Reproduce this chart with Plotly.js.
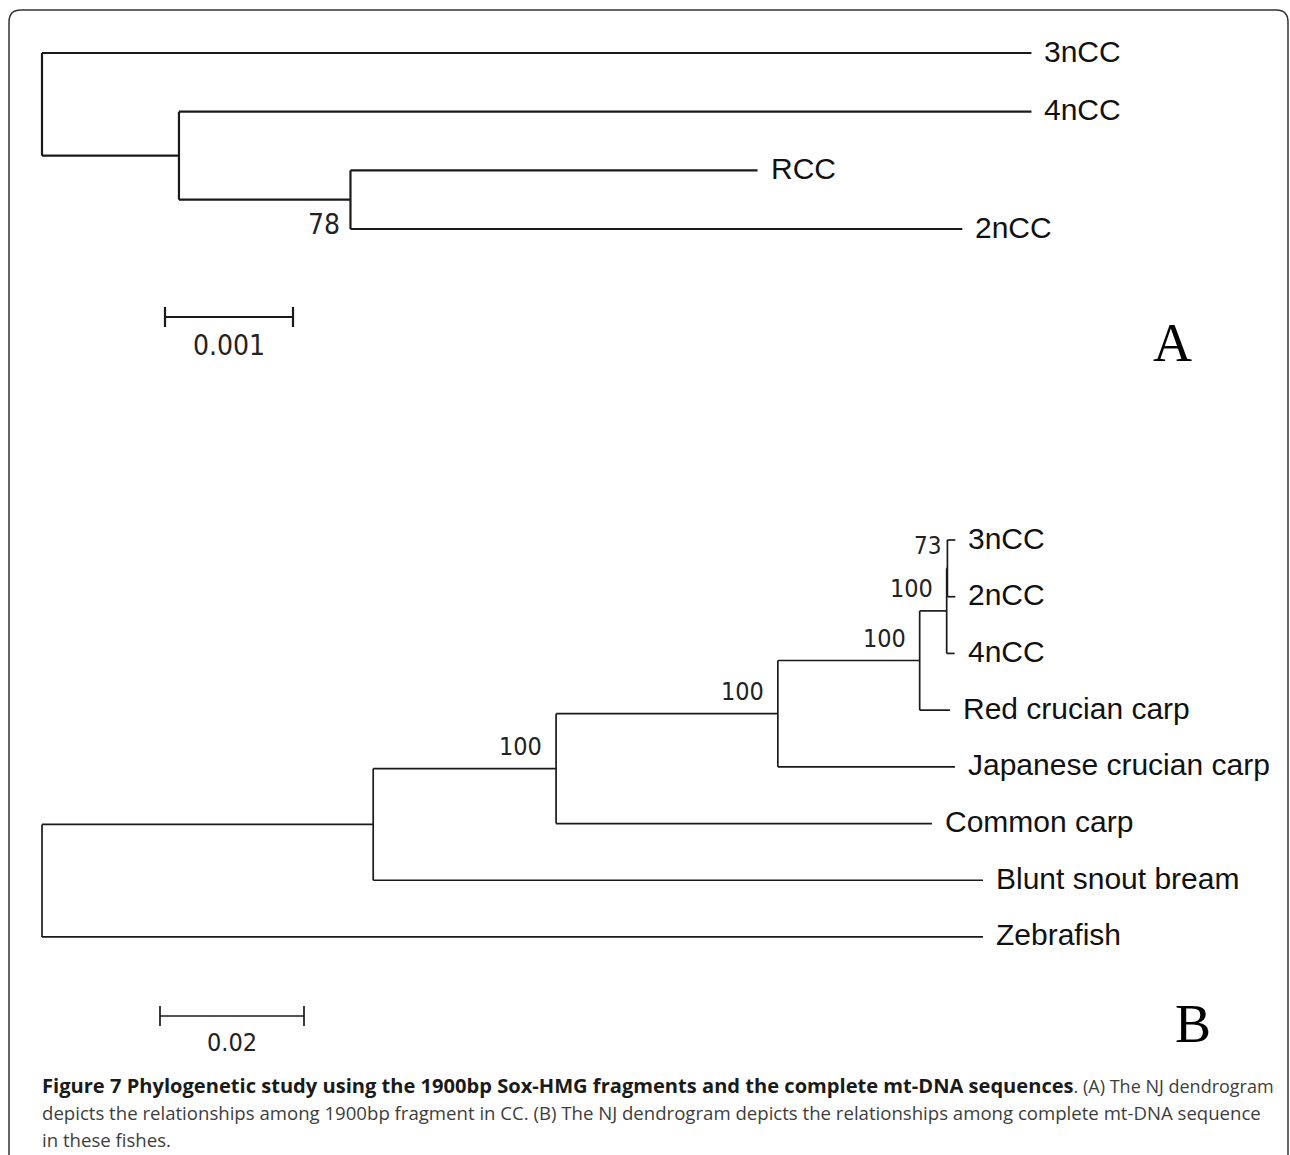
<!DOCTYPE html>
<html><head><meta charset="utf-8">
<script src="https://cdn.plot.ly/plotly-3.0.1.min.js"></script>
<style>html,body{margin:0;padding:0;background:#fff}</style>
</head><body><div id="chart" style="width:1290px;height:1155px"></div>
<script>
// ---------------- DATA ----------------
// Tree A: NJ dendrogram, 1900bp Sox-HMG fragments (branch lengths in substitutions/site)
const nodesA   = ["rootA", "3nCC", "A1", "4nCC", "A2", "RCC", "2nCC"];
const parentsA = [null, "rootA", "rootA", "A1", "A1", "A2", "A2"];
const branchA  = [0, 0.00773, 0.00107, 0.00666, 0.00134, 0.00318, 0.00478];
const supportA = ["", "", "", "", "78", "", ""];
const scaleA = 0.001, scaleLabelA = "0.001";

// Tree B: NJ dendrogram, complete mt-DNA sequences
const nodesB   = ["rootB", "B1", "B2", "B3", "B4", "B5", "B6", "3nCC", "2nCC", "4nCC",
                  "Red crucian carp", "Japanese crucian carp", "Common carp", "Blunt snout bream", "Zebrafish"];
const parentsB = [null, "rootB", "B1", "B2", "B3", "B4", "B5", "B6", "B6", "B5",
                  "B4", "B3", "B2", "B1", "rootB"];
const branchB  = [0, 0.0460, 0.0254, 0.0308, 0.0197, 0.00375, 0.0001, 0.0011, 0.0011, 0.0011,
                  0.0042, 0.0246, 0.0522, 0.0847, 0.1307];
const supportB = ["", "", "100", "100", "100", "100", "73", "", "", "", "", "", "", "", ""];
const scaleB = 0.02, scaleLabelB = "0.02";

const panelLetters = ["A", "B"];
const captionBold = "Figure 7 Phylogenetic study using the 1900bp Sox-HMG fragments and the complete mt-DNA sequences";
const captionLines = [
  ". (A) The NJ dendrogram",
  "depicts the relationships among 1900bp fragment in CC. (B) The NJ dendrogram depicts the relationships among complete mt-DNA sequence",
  "in these fishes."
];

// ---------------- STYLE / GEOMETRY ----------------
const W = 1290, H = 1155;
const geomA = {ox: 42, oy: 53, pxPerScale: 128, tipGap: 58.67, lw: 2.2, lab: 30, sup: 28,
               supShift: {dx: -8, dy: -6, below: true}, barX0: 165, barY: 317, barLabDy: 28};
const geomB = {ox: 42, oy: 540, pxPerScale: 144, tipGap: 56.71, lw: 1.7, lab: 30, sup: 25,
               supShift: {dx: -12, dy: 6, below: false}, barX0: 160, barY: 1016, barLabDy: 26};
const lineColor = "#1a1a1a";

function layoutTree(names, parents, lens) {
  const idx = {}; names.forEach((n, i) => idx[n] = i);
  const children = names.map(() => []);
  parents.forEach((p, i) => { if (p !== null) children[idx[p]].push(i); });
  const x = new Array(names.length), y = new Array(names.length);
  let tip = 0;
  function visit(i, px) {
    x[i] = px + lens[i];
    if (children[i].length === 0) { y[i] = tip++; }
    else {
      children[i].forEach(c => visit(c, x[i]));
      const ys = children[i].map(c => y[c]);
      y[i] = (Math.min(...ys) + Math.max(...ys)) / 2;
    }
  }
  visit(parents.indexOf(null), 0);
  return {x, y, children, pidx: parents.map(p => p === null ? -1 : idx[p])};
}

function buildTree(names, parents, lens, support, scale, scaleLabel, g, xa, ya) {
  const t = layoutTree(names, parents, lens);
  const X = [], Y = [];
  names.forEach((n, i) => {
    const p = t.pidx[i];
    if (p >= 0) { X.push(t.x[p], t.x[i], null); Y.push(t.y[i], t.y[i], null); }
    if (t.children[i].length) {
      const ys = t.children[i].map(c => t.y[c]);
      X.push(t.x[i], t.x[i], null); Y.push(Math.min(...ys), Math.max(...ys), null);
    }
  });
  const unitPerPx = scale / g.pxPerScale;
  const traces = [{type: "scatter", mode: "lines", x: X, y: Y, xaxis: xa, yaxis: ya,
    line: {color: lineColor, width: g.lw, shape: "linear"}, hoverinfo: "skip", showlegend: false}];
  // scale bar
  const bx0 = (g.barX0 - g.ox) * unitPerPx;
  const by = (g.barY - g.oy) / g.tipGap;
  const tk = 10 / g.tipGap;
  traces.push({type: "scatter", mode: "lines", xaxis: xa, yaxis: ya,
    x: [bx0, bx0 + scale, null, bx0, bx0, null, bx0 + scale, bx0 + scale],
    y: [by, by, null, by - tk, by + tk, null, by - tk, by + tk],
    line: {color: lineColor, width: g.lw}, hoverinfo: "skip", showlegend: false});
  const ann = [];
  names.forEach((n, i) => {
    if (t.children[i].length === 0) {
      ann.push({x: t.x[i], y: t.y[i], xref: xa, yref: ya, text: n, showarrow: false,
        xanchor: "left", yanchor: "middle", xshift: 11, yshift: 2,
        font: {family: "Liberation Sans, Arial, sans-serif", size: g.lab, color: "#111"}});
    }
    if (support[i]) {
      const s = g.supShift;
      const extra = (support[i] === "73") ? 8 : 0;
      ann.push({x: t.x[i], y: t.y[i], xref: xa, yref: ya, text: support[i], showarrow: false,
        xanchor: "right", yanchor: s.below ? "top" : "bottom", xshift: s.dx + extra, yshift: s.dy,
        font: {family: "Liberation Sans Narrow, DejaVu Sans Condensed, sans-serif", size: (support[i] === "73" ? g.sup - 1 : g.sup), color: "#222"}});
    }
  });
  ann.push({x: bx0 + scale / 2, y: by, xref: xa, yref: ya, text: scaleLabel, showarrow: false,
    xanchor: "center", yanchor: "middle", yshift: -g.barLabDy,
    font: {family: "Liberation Sans Narrow, DejaVu Sans Condensed, sans-serif", size: g.sup, color: "#222"}});
  const xr = [-g.ox * unitPerPx, (W - g.ox) * unitPerPx];
  const yr = [(H - g.oy) / g.tipGap, -g.oy / g.tipGap];
  return {traces, ann, xr, yr};
}

const A = buildTree(nodesA, parentsA, branchA, supportA, scaleA, scaleLabelA, geomA, "x", "y");
const B = buildTree(nodesB, parentsB, branchB, supportB, scaleB, scaleLabelB, geomB, "x2", "y2");

function px(x) { return x / W; }
function py(y) { return 1 - y / H; }

// frame (rounded top corners, open beyond the bottom)
const r = 12, L = 9, R = 1288, T = 10, Bt = 1170;
const framePath = `M ${px(L)},${py(Bt)} L ${px(L)},${py(T + r)} Q ${px(L)},${py(T)} ${px(L + r)},${py(T)} ` +
  `L ${px(R - r)},${py(T)} Q ${px(R)},${py(T)} ${px(R)},${py(T + r)} L ${px(R)},${py(Bt)}`;

const capFont = "Open Sans, Noto Sans, sans-serif";
const capAnn = [
  {x: px(40), y: py(1085), text: "", size: 18},
  {x: px(40), y: py(1112), text: captionLines[1], size: 18.6},
  {x: px(40), y: py(1139), text: captionLines[2], size: 18.6}
].map(c => ({x: c.x, y: c.y, xref: "paper", yref: "paper", text: c.text, showarrow: false,
  xanchor: "left", yanchor: "middle", font: {family: capFont, size: c.size, color: "#3d3d3d"}}));
capAnn[0].text = "<b><span style='color:#1a1a1a;font-size:20.1px'>" + captionBold + "</span></b>" + captionLines[0];

const letterAnn = [
  {x: px(1172), y: py(343), text: panelLetters[0]},
  {x: px(1193), y: py(1024), text: panelLetters[1]}
].map(c => ({x: c.x, y: c.y, xref: "paper", yref: "paper", text: c.text, showarrow: false,
  xanchor: "center", yanchor: "middle", font: {family: "Liberation Serif, Times New Roman, serif", size: 54, color: "#000"}}));

const axBase = {visible: false, showgrid: false, zeroline: false, fixedrange: true, domain: [0, 1]};
const layout = {
  width: W, height: H, margin: {l: 0, r: 0, t: 0, b: 0},
  paper_bgcolor: "#fff", plot_bgcolor: "rgba(0,0,0,0)", showlegend: false, hovermode: false,
  xaxis: Object.assign({}, axBase, {range: A.xr}),
  yaxis: Object.assign({}, axBase, {range: A.yr}),
  xaxis2: Object.assign({}, axBase, {range: B.xr, anchor: "y2"}),
  yaxis2: Object.assign({}, axBase, {range: B.yr, anchor: "x2"}),
  shapes: [{type: "path", xref: "paper", yref: "paper", path: framePath,
            line: {color: "#333", width: 1.5}}],
  annotations: [].concat(A.ann, B.ann, capAnn, letterAnn)
};

Plotly.newPlot("chart", [].concat(A.traces, B.traces), layout, {displayModeBar: false, staticPlot: true});
</script>
</body></html>
